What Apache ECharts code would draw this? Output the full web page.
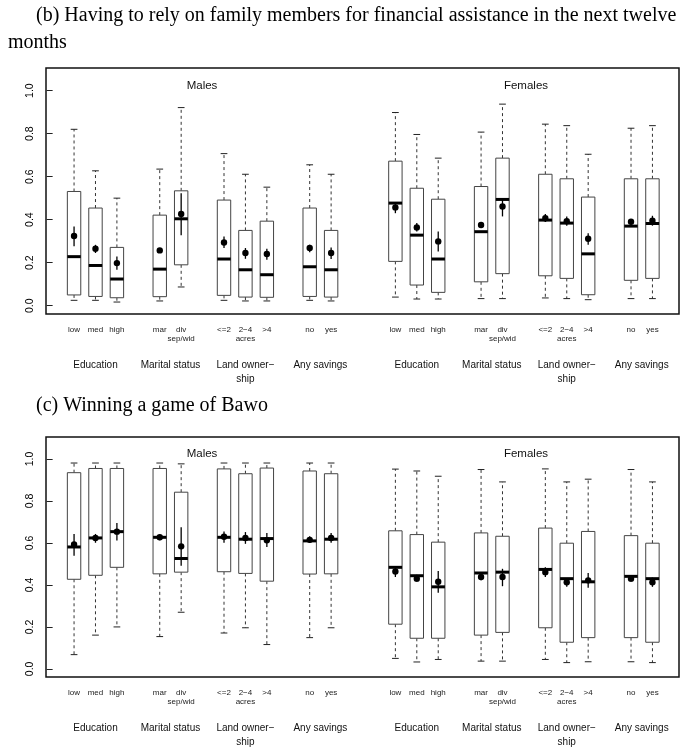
<!DOCTYPE html>
<html><head><meta charset="utf-8">
<script src="https://cdn.jsdelivr.net/npm/echarts@6/dist/echarts.min.js"></script>
<style>html,body{margin:0;padding:0;background:#fff}#c{width:691px;height:749px}</style>
</head><body><div id="c"></div>
<script>
// ---- categories / positions ----
const positions = [1,2,3,5,6,8,9,10,12,13, 16,17,18,20,21,23,24,25,27,28];
const categoryLabels = ['low','med','high','mar','div\nsep/wid','<=2','2\u22124\nacres','>4','no','yes',
                        'low','med','high','mar','div\nsep/wid','<=2','2\u22124\nacres','>4','no','yes'];
const groupPositions = [2,5.5,9,12.5, 17,20.5,24,27.5];
const groupLabels = ['Education','Marital status','Land owner\u2212\nship','Any savings',
                     'Education','Marital status','Land owner\u2212\nship','Any savings'];
const yTicks = [0,0.2,0.4,0.6,0.8,1.0];

// ---- panel (b): family assistance (males 10, then females 10) ----
const bWhiskerLow  = [0.025,0.025,0.017,0.022,0.087,0.025,0.022,0.022,0.025,0.022, 0.040,0.031,0.031,0.033,0.033,0.036,0.033,0.028,0.033,0.033];
const bQ1          = [0.050,0.043,0.037,0.042,0.190,0.048,0.040,0.039,0.043,0.040, 0.206,0.096,0.062,0.111,0.149,0.139,0.127,0.051,0.118,0.127];
const bMedian      = [0.228,0.187,0.124,0.170,0.404,0.217,0.167,0.144,0.181,0.167, 0.477,0.328,0.217,0.344,0.494,0.398,0.384,0.241,0.370,0.382];
const bQ3          = [0.531,0.454,0.271,0.421,0.534,0.491,0.350,0.393,0.454,0.350, 0.672,0.546,0.495,0.554,0.686,0.611,0.590,0.505,0.590,0.590];
const bWhiskerHigh = [0.820,0.627,0.500,0.635,0.921,0.707,0.611,0.551,0.655,0.611, 0.898,0.796,0.686,0.807,0.937,0.844,0.837,0.704,0.825,0.837];
const bMean        = [0.324,0.265,0.198,0.257,0.426,0.294,0.245,0.240,0.268,0.245, 0.457,0.364,0.299,0.375,0.461,0.407,0.393,0.311,0.390,0.395];
const bCiLow       = [0.276,0.245,0.167,0.245,0.327,0.268,0.218,0.214,0.248,0.217, 0.430,0.345,0.252,0.361,0.415,0.389,0.372,0.283,0.376,0.372];
const bCiHigh      = [0.368,0.283,0.229,0.268,0.523,0.322,0.268,0.265,0.283,0.271, 0.477,0.384,0.345,0.389,0.500,0.426,0.415,0.337,0.402,0.418];

// ---- panel (c): winning a game of Bawo ----
const cWhiskerLow  = [0.068,0.161,0.200,0.154,0.270,0.171,0.196,0.116,0.149,0.196, 0.050,0.033,0.045,0.037,0.037,0.045,0.030,0.034,0.034,0.030];
const cQ1          = [0.427,0.446,0.484,0.453,0.461,0.463,0.455,0.418,0.452,0.453, 0.213,0.146,0.146,0.161,0.174,0.196,0.127,0.149,0.149,0.127];
const cMedian      = [0.581,0.624,0.654,0.627,0.526,0.627,0.618,0.621,0.610,0.618, 0.484,0.444,0.391,0.457,0.461,0.474,0.430,0.415,0.441,0.430];
const cQ3          = [0.935,0.955,0.955,0.955,0.842,0.953,0.930,0.957,0.943,0.930, 0.658,0.640,0.604,0.648,0.632,0.671,0.599,0.655,0.635,0.599];
const cWhiskerHigh = [0.981,0.981,0.981,0.981,0.977,0.981,0.981,0.981,0.981,0.981, 0.952,0.943,0.918,0.950,0.891,0.953,0.891,0.904,0.950,0.891];
const cMean        = [0.593,0.624,0.654,0.627,0.584,0.630,0.624,0.613,0.615,0.624, 0.464,0.430,0.415,0.438,0.438,0.461,0.413,0.422,0.430,0.413];
const cCiLow       = [0.539,0.601,0.612,0.613,0.492,0.601,0.596,0.581,0.601,0.601, 0.438,0.415,0.363,0.422,0.394,0.438,0.391,0.387,0.415,0.391];
const cCiHigh      = [0.643,0.643,0.695,0.640,0.675,0.655,0.652,0.648,0.632,0.648, 0.484,0.449,0.466,0.453,0.477,0.484,0.430,0.457,0.446,0.435];

function rows(lo,q1,md,q3,hi,mn,cl,ch){
  return positions.map((p,i)=>[p,lo[i],q1[i],md[i],q3[i],hi[i],mn[i],cl[i],ch[i]]);
}
const bData = rows(bWhiskerLow,bQ1,bMedian,bQ3,bWhiskerHigh,bMean,bCiLow,bCiHigh);
const cData = rows(cWhiskerLow,cQ1,cMedian,cQ3,cWhiskerHigh,cMean,cCiLow,cCiHigh);

const labelMap = new Map(positions.map((p,i)=>[p,categoryLabels[i]]));
const groupMap = new Map(groupPositions.map((p,i)=>[p,groupLabels[i]]));

const BOX_HALF = 0.313, CAP_HALF = 0.157;
function renderBox(params, api){
  const x = api.value(0);
  const c = k => api.coord([x, api.value(k)]);
  const pLo=c(1), pQ1=c(2), pMed=c(3), pQ3=c(4), pHi=c(5), pMean=c(6), pCl=c(7), pCh=c(8);
  const cx = pQ1[0];
  const bw = api.size([BOX_HALF*2,0])[0];
  const cw = api.size([CAP_HALF*2,0])[0];
  const dash = {stroke:'#333', lineWidth:1, lineDash:[3,3]};
  const solid = {stroke:'#222', lineWidth:1};
  return {type:'group', children:[
    {type:'line', shape:{x1:cx,y1:pQ3[1],x2:cx,y2:pHi[1]}, style:dash},
    {type:'line', shape:{x1:cx,y1:pQ1[1],x2:cx,y2:pLo[1]}, style:dash},
    {type:'line', shape:{x1:cx-cw/2,y1:pHi[1],x2:cx+cw/2,y2:pHi[1]}, style:solid},
    {type:'line', shape:{x1:cx-cw/2,y1:pLo[1],x2:cx+cw/2,y2:pLo[1]}, style:solid},
    {type:'rect', shape:{x:cx-bw/2,y:pQ3[1],width:bw,height:pQ1[1]-pQ3[1]}, style:{fill:'#fff',stroke:'#444',lineWidth:1}},
    {type:'line', shape:{x1:cx-bw/2,y1:pMed[1],x2:cx+bw/2,y2:pMed[1]}, style:{stroke:'#000',lineWidth:3}},
    {type:'line', shape:{x1:cx,y1:pCl[1],x2:cx,y2:pCh[1]}, style:{stroke:'#000',lineWidth:1.3}},
    {type:'circle', shape:{cx:cx,cy:pMean[1],r:3.2}, style:{fill:'#000'}}
  ]};
}

const XMIN=-0.31, XMAX=29.24, YMIN=-0.0386, YMAX=1.105;
const sans = 'Liberation Sans, Arial, sans-serif';
function xAxes(gi){
  return [
    {type:'value', gridIndex:gi, min:XMIN, max:XMAX, position:'bottom',
     axisLine:{show:false}, axisTick:{show:false}, splitLine:{show:false},
     axisLabel:{customValues:positions, formatter:v=>labelMap.get(v)||'', fontSize:8, lineHeight:9,
                color:'#222', fontFamily:sans, margin:11}},
    {type:'value', gridIndex:gi, min:XMIN, max:XMAX, position:'bottom',
     axisLine:{show:false}, axisTick:{show:false}, splitLine:{show:false},
     axisLabel:{customValues:groupPositions, formatter:v=>groupMap.get(v)||'', fontSize:10, lineHeight:14,
                color:'#111', fontFamily:sans, margin:44}}
  ];
}
function yAxis(gi){
  return {type:'value', gridIndex:gi, min:YMIN, max:YMAX,
    axisLine:{show:false}, splitLine:{show:false},
    axisTick:{show:true, customValues:yTicks, length:6, lineStyle:{color:'#222'}},
    axisLabel:{customValues:yTicks, formatter:v=>v.toFixed(1), rotate:90, fontSize:10.5,
               color:'#000', fontFamily:sans, margin:10}};
}

const serif = 'Liberation Serif, Times New Roman, serif';
const option = {
  animation:false,
  backgroundColor:'#fff',
  grid:[
    {left:46, right:12, top:68, height:246, show:true, borderColor:'#111', borderWidth:1.5, backgroundColor:'transparent'},
    {left:46, right:12, top:437, height:246, show:true, borderColor:'#111', borderWidth:1.5, backgroundColor:'transparent'}
  ],
  xAxis:[...xAxes(0), ...xAxes(1)],
  yAxis:[yAxis(0), yAxis(1)],
  graphic:[
    {type:'text', left:36, top:6, style:{text:'(b) Having to rely on family members for financial assistance in the next twelve', font:'20px '+serif, fill:'#000'}},
    {type:'text', left:8, top:33, style:{text:'months', font:'20px '+serif, fill:'#000'}},
    {type:'text', left:36, top:396, style:{text:'(c) Winning a game of Bawo', font:'20px '+serif, fill:'#000'}},
    {type:'text', x:202, y:86, style:{text:'Males', font:'11.5px '+sans, fill:'#111', align:'center', verticalAlign:'middle'}},
    {type:'text', x:526, y:86, style:{text:'Females', font:'11.5px '+sans, fill:'#111', align:'center', verticalAlign:'middle'}},
    {type:'text', x:202, y:454, style:{text:'Males', font:'11.5px '+sans, fill:'#111', align:'center', verticalAlign:'middle'}},
    {type:'text', x:526, y:454, style:{text:'Females', font:'11.5px '+sans, fill:'#111', align:'center', verticalAlign:'middle'}}
  ],
  series:[
    {type:'custom', xAxisIndex:0, yAxisIndex:0, renderItem:renderBox, data:bData, encode:{x:0,y:[1,2,3,4,5]}},
    {type:'custom', xAxisIndex:2, yAxisIndex:1, renderItem:renderBox, data:cData, encode:{x:0,y:[1,2,3,4,5]}}
  ]
};
const chart = echarts.init(document.getElementById('c'), null, {renderer:'canvas'});
chart.setOption(option);
</script>
</body></html>
